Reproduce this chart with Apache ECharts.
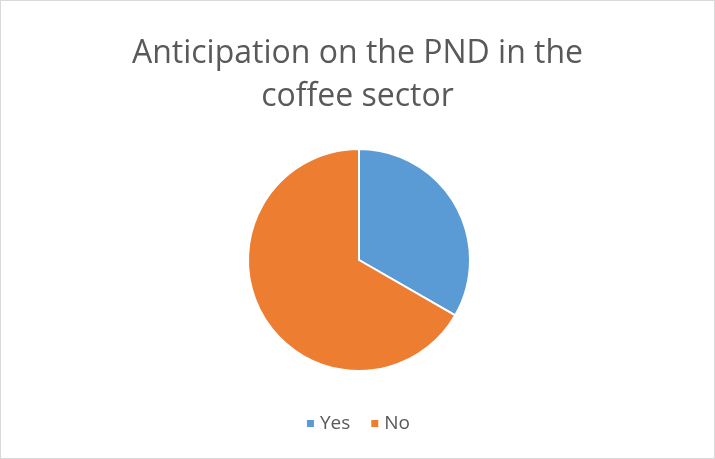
<!DOCTYPE html>
<html>
<head>
<meta charset="utf-8">
<script src="https://cdn.jsdelivr.net/npm/echarts@6/dist/echarts.min.js"></script>
<style>
  html, body { margin: 0; padding: 0; background: #fff; }
  #chart { width: 715px; height: 459px; box-sizing: border-box; border: 1px solid #d9d9d9; }
</style>
</head>
<body>
<div id="chart"></div>
<script>
const categories = ['Yes', 'No'];
const values = [33.3, 66.7];
const colors = ['#5b9bd5', '#ed7d31'];

const chart = echarts.init(document.getElementById('chart'), null, { renderer: 'canvas' });
chart.setOption({
  animation: false,
  title: {
    text: 'Anticipation on the PND in the\ncoffee sector',
    left: 'center',
    top: 26,
    textStyle: {
      fontFamily: 'Open Sans',
      fontWeight: 'normal',
      fontSize: 32,
      lineHeight: 43,
      color: '#595959'
    }
  },
  legend: {
    bottom: 20,
    left: 'center',
    itemWidth: 9,
    itemHeight: 9,
    itemGap: 19,
    icon: 'rect',
    textStyle: { fontFamily: 'Open Sans', fontSize: 19, color: '#595959' },
    data: categories
  },
  series: [{
    type: 'pie',
    center: [358, 259],
    radius: 111,
    startAngle: 90,
    clockwise: true,
    label: { show: false },
    labelLine: { show: false },
    itemStyle: { borderColor: '#fff', borderWidth: 2 },
    data: categories.map((c, i) => ({ name: c, value: values[i], itemStyle: { color: colors[i] } }))
  }]
});
</script>
</body>
</html>
